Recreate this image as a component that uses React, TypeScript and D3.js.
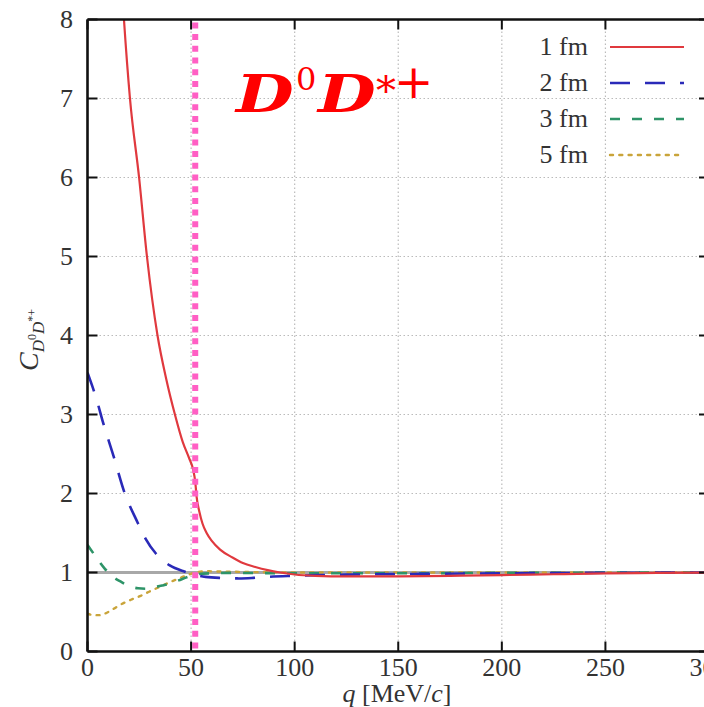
import React from "react";
import * as d3 from "d3";

type P = [number, number];

const xTicks = [0, 50, 100, 150, 200, 250, 300];
const yTicks = [0, 1, 2, 3, 4, 5, 6, 7, 8];
const thresholdQ = 52;

const red1fm: P[] = [
  [14, 9.6], [17.6, 8.0], [20.5, 7.0], [24.9, 6.0], [28.7, 5.0], [33.8, 4.0], [38, 3.45],
  [42.2, 3.0], [46, 2.65], [49, 2.45], [51, 2.3], [52, 2.15], [52.7, 1.95], [54, 1.77],
  [55.5, 1.62], [57.5, 1.5], [60, 1.4], [64, 1.29], [70, 1.19], [75, 1.12], [81, 1.07],
  [87, 1.03], [93, 1.0], [100, 0.975], [110, 0.958], [125, 0.95], [150, 0.952],
  [175, 0.958], [200, 0.967], [225, 0.978], [250, 0.988], [275, 0.995], [300, 1.0],
];
const blue2fm: P[] = [
  [0, 3.53], [4.4, 3.19], [7.6, 2.89], [12.5, 2.48], [18, 2.0], [23.7, 1.66], [28, 1.43],
  [33, 1.24], [39.7, 1.09], [47, 1.01], [52, 0.97], [57, 0.945], [65, 0.93], [73, 0.925],
  [80, 0.932], [87, 0.945], [100, 0.958], [111, 0.967], [130, 0.975], [150, 0.98],
  [200, 0.99], [250, 0.996], [300, 1.0],
];
const green3fm: P[] = [
  [0, 1.35], [4, 1.2], [8.3, 1.05], [12, 0.95], [16.3, 0.88], [20, 0.83], [24.4, 0.8],
  [28, 0.795], [32.4, 0.815], [36, 0.835], [40.5, 0.865], [44, 0.9], [48.5, 0.945],
  [53, 0.978], [60, 0.99], [70, 0.995], [100, 0.99], [150, 0.99], [200, 0.995], [300, 1.0],
];
const yellow5fm: P[] = [
  [0, 0.48], [3, 0.46], [6, 0.46], [10, 0.5], [15.7, 0.59], [21, 0.655], [25.3, 0.7],
  [30, 0.76], [35, 0.82], [40, 0.88], [44.6, 0.93], [49.5, 0.98], [53, 1.005],
  [58, 1.015], [65, 1.012], [80, 1.005], [100, 1.0], [300, 1.0],
];

const seriesNames = ["1 fm", "2 fm", "3 fm", "5 fm"];
const seriesData = [red1fm, blue2fm, green3fm, yellow5fm];
const seriesColors = ["#e0393e", "#2a2ab8", "#2e9468", "#c9a43a"];
const seriesDash = ["none", "20 15", "10 12", "3 6.3"];
const seriesWidth = [2.2, 2.6, 2.6, 2.4];

const W = 704;
const H = 707;
const left = 87.5, right = 709, top = 19.5, bottom = 651.5;

export default function App() {
  const x = d3.scaleLinear().domain([0, 300]).range([left, right]);
  const y = d3.scaleLinear().domain([0, 8]).range([bottom, top]);
  const line = d3
    .line<P>()
    .x((d) => x(d[0]))
    .y((d) => y(d[1]))
    .curve(d3.curveMonotoneX);

  const serif = "'Liberation Serif', 'Times New Roman', serif";
  const titleFont = "'DejaVu Serif', serif";
  const drawOrder = [3, 2, 1, 0];

  return (
    <svg
      width={W}
      height={H}
      style={{ position: "absolute", left: 0, top: 0, background: "#fff" }}
    >
      <defs>
        <clipPath id="plotClip">
          <rect x={left} y={top} width={right - left} height={bottom - top} />
        </clipPath>
      </defs>
      <rect x={0} y={0} width={W} height={H} fill="#fff" />

      {/* grid */}
      {xTicks.slice(1, -1).map((t) => (
        <line key={"gx" + t} x1={x(t)} x2={x(t)} y1={top} y2={bottom}
          stroke="#bbb" strokeWidth={1.2} strokeDasharray="1.5 2.5" />
      ))}
      {yTicks.slice(1, -1).map((t) => (
        <line key={"gy" + t} x1={left} x2={right} y1={y(t)} y2={y(t)}
          stroke="#bbb" strokeWidth={1.2} strokeDasharray="1.5 2.5" />
      ))}

      {/* reference line at 1 */}
      <line x1={x(0)} x2={x(300)} y1={y(1)} y2={y(1)} stroke="#a8a8a8" strokeWidth={3} />

      {/* curves */}
      <g clipPath="url(#plotClip)">
        {drawOrder.map((i) => (
          <path key={"s" + i} d={line(seriesData[i]) || ""} fill="none"
            stroke={seriesColors[i]} strokeWidth={seriesWidth[i]}
            strokeDasharray={seriesDash[i]} strokeLinecap={i === 3 ? "round" : "butt"} />
        ))}
      </g>

      {/* threshold line */}
      <line x1={x(thresholdQ)} x2={x(thresholdQ)} y1={bottom - 3} y2={top + 2}
        stroke="#ff5fc4" strokeWidth={6} strokeDasharray="6 5.7" />

      {/* axes frame */}
      <line x1={left} x2={left} y1={top} y2={bottom} stroke="#111" strokeWidth={2.6} />
      <line x1={left} x2={right} y1={bottom} y2={bottom} stroke="#111" strokeWidth={2.6} />
      <line x1={left} x2={right} y1={top} y2={top} stroke="#111" strokeWidth={2.6} />
      <line x1={right} x2={right} y1={top} y2={bottom} stroke="#111" strokeWidth={2.6} />

      {/* ticks */}
      {xTicks.map((t) => (
        <g key={"xt" + t}>
          <line x1={x(t)} x2={x(t)} y1={bottom} y2={bottom - 10} stroke="#111" strokeWidth={2} />
          <line x1={x(t)} x2={x(t)} y1={top} y2={top + 10} stroke="#111" strokeWidth={2} />
          <text x={x(t)} y={676} textAnchor="middle" fontFamily={serif} fontSize={26} fill="#333">
            {t}
          </text>
        </g>
      ))}
      {yTicks.map((t) => (
        <g key={"yt" + t}>
          <line x1={left} x2={left + 10} y1={y(t)} y2={y(t)} stroke="#111" strokeWidth={2} />
          <line x1={right} x2={right - 10} y1={y(t)} y2={y(t)} stroke="#111" strokeWidth={2} />
          <text x={73} y={y(t) + 8} textAnchor="end" fontFamily={serif} fontSize={26} fill="#333">
            {t}
          </text>
        </g>
      ))}

      {/* axis labels */}
      <text x={397} y={702} textAnchor="middle" fontFamily={serif} fontSize={26} fill="#333">
        <tspan fontStyle="italic">q</tspan> [MeV/<tspan fontStyle="italic">c</tspan>]
      </text>
      <text transform="translate(38,340) rotate(-90)" textAnchor="middle" fontFamily={serif} fill="#333">
        <tspan fontSize={28} fontStyle="italic">C</tspan>
        <tspan fontSize={17} fontStyle="italic" dy={6}>D</tspan>
        <tspan fontSize={12} dy={-8}>0</tspan>
        <tspan fontSize={17} fontStyle="italic" dy={8}>D</tspan>
        <tspan fontSize={12} dy={-8}>*+</tspan>
      </text>

      {/* title */}
      <g fill="#ff0000" fontFamily={titleFont}>
        <text transform="translate(236,112) scale(1.28,1)" fontSize={52} fontWeight="bold" fontStyle="italic">D</text>
        <text x={296} y={90} fontSize={32}>0</text>
        <text transform="translate(318,112) scale(1.28,1)" fontSize={52} fontWeight="bold" fontStyle="italic">D</text>
        <text x={376} y={104} fontSize={40}>*</text>
        <text x={394} y={98} fontSize={47}>+</text>
      </g>

      {/* legend */}
      {seriesNames.map((n, i) => {
        const ly = 47 + i * 36;
        return (
          <g key={"lg" + i}>
            <text x={588} y={ly + 8} textAnchor="end" fontFamily={serif} fontSize={26} fill="#333">
              {n}
            </text>
            <line x1={610} x2={684} y1={ly} y2={ly} stroke={seriesColors[i]}
              strokeWidth={seriesWidth[i]} strokeDasharray={seriesDash[i]}
              strokeLinecap={i === 3 ? "round" : "butt"} />
          </g>
        );
      })}
    </svg>
  );
}
